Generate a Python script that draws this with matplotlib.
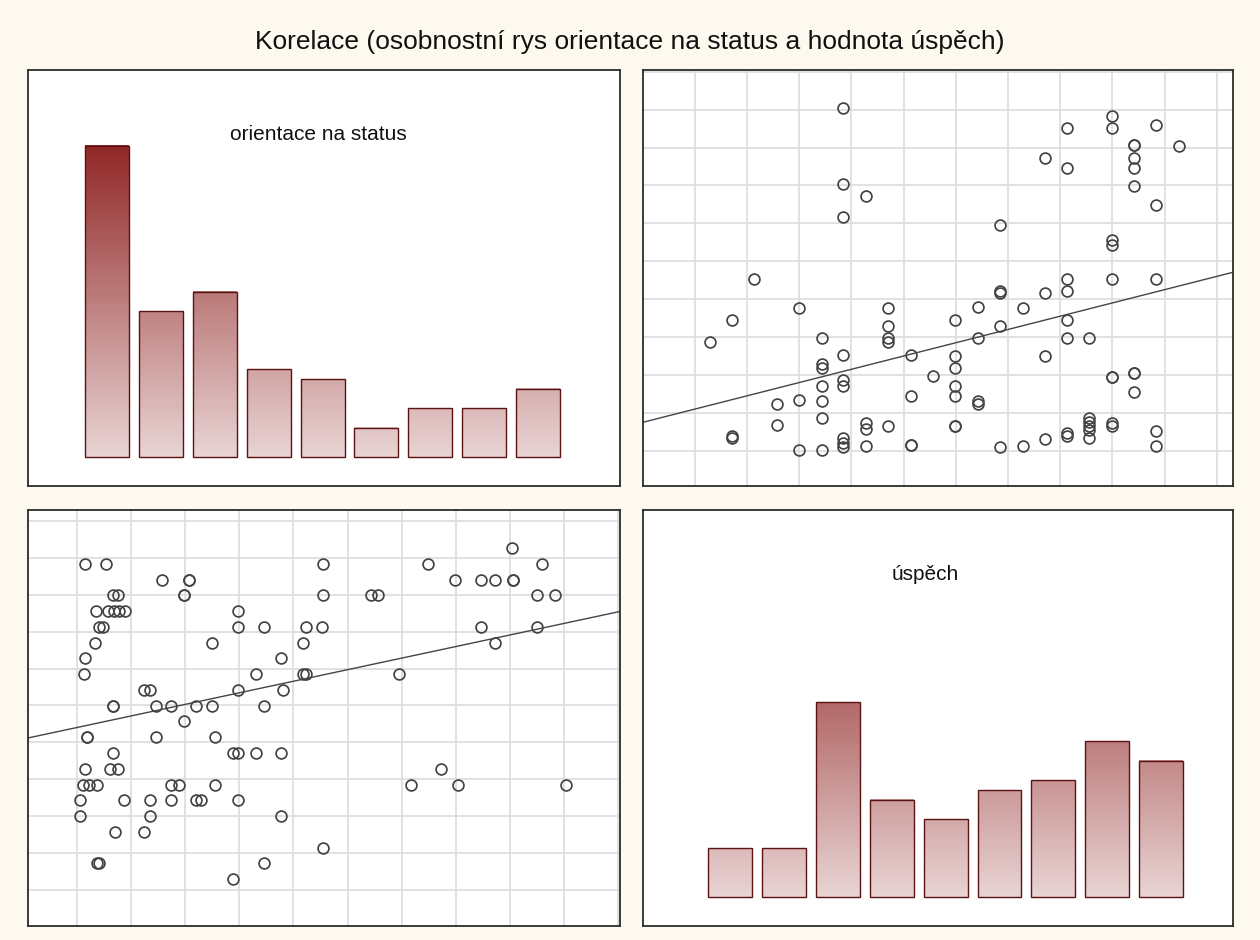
import numpy as np
import matplotlib
matplotlib.use("Agg")
import matplotlib.pyplot as plt
from matplotlib.colors import LinearSegmentedColormap, Normalize
from matplotlib.ticker import MultipleLocator

plt.rcParams['font.family'] = ['Liberation Sans', 'DejaVu Sans']

# skóre úspěch a orientace na status pro každého respondenta
uspech = [
    0.29,
    0.71, 0.71, 0.71,
    1.14,
    1.57, 1.57,
    2.00, 2.00, 2.00,
    2.43, 2.43, 2.43, 2.43, 2.43, 2.43, 2.43,
    2.85, 2.85, 2.85, 2.85, 2.85, 2.85, 2.85, 2.85, 2.85,
    3.28, 3.28, 3.28, 3.28,
    3.71, 3.71, 3.71, 3.71, 3.71,
    4.14, 4.14, 4.14, 4.14,
    4.57,
    4.99, 4.99, 4.99, 4.99, 4.99, 4.99, 4.99,
    5.42, 5.42, 5.42, 5.42,
    5.85, 5.85, 5.85, 5.85, 5.85,
    6.28, 6.28,
    6.70, 6.70, 6.70, 6.70,
    7.13, 7.13, 7.13, 7.13, 7.13, 7.13, 7.13, 7.13,
    7.56, 7.56, 7.56, 7.56, 7.56, 7.56,
    7.99, 7.99, 7.99, 7.99, 7.99, 7.99, 7.99, 7.99, 7.99,
    8.41, 8.41, 8.41, 8.41, 8.41, 8.41, 8.41, 8.41,
    8.84, 8.84, 8.84, 8.84, 8.84,
    9.27,
]
status = [
    2.89,
    0.36, 0.41, 3.46,
    4.55,
    0.70, 1.24,
    0.05, 1.35, 3.77,
    0.05, 0.87, 1.34, 1.73, 2.20, 2.29, 2.98,
    0.11, 0.21, 0.36, 1.73, 1.88, 2.54, 6.17, 7.04, 9.05,
    0.15, 0.60, 0.76, 6.72,
    0.67, 2.88, 2.98, 3.31, 3.77,
    0.18, 0.18, 1.45, 2.54,
    1.98,
    0.66, 0.66, 1.45, 1.73, 2.20, 2.50, 3.46,
    1.24, 1.34, 2.98, 3.80,
    0.12, 3.31, 4.18, 4.23, 5.95,
    0.14, 3.77,
    0.33, 2.50, 4.18, 7.72,
    0.40, 0.48, 2.98, 3.46, 4.23, 4.53, 7.47, 8.51,
    0.35, 0.57, 0.68, 0.78, 0.88, 2.98,
    0.66, 0.76, 1.97, 1.97, 4.55, 5.44, 5.57, 8.51, 8.84,
    1.56, 2.07, 2.07, 6.99, 7.47, 7.72, 8.06, 8.06,
    0.15, 0.54, 4.55, 6.49, 8.59,
    8.04,
]

# četnosti v histogramech (9 intervalů)
status_counts = [32, 15, 17, 9, 8, 3, 5, 5, 7]
uspech_counts = [5, 5, 20, 10, 8, 11, 12, 16, 14]

title = "Korelace (osobnostní rys orientace na status a hodnota úspěch)"
status_label = "orientace na status"
uspech_label = "úspěch"

bg = "#fef9ee"
bar_cmap = LinearSegmentedColormap.from_list("cervena", ["#e9d4d4", "#922828"])
status_lim = (-0.91, 10.04)
uspech_lim = (-0.99, 10.31)

fig = plt.figure(figsize=(12.6, 9.4), dpi=100, facecolor=bg)
W, H = 1260, 940


def panel(x0, y0, x1, y1):
    ax = fig.add_axes([x0 / W, 1 - y1 / H, (x1 - x0) / W, (y1 - y0) / H])
    ax.set_facecolor("white")
    for s in ax.spines.values():
        s.set_color("#2b2b2b")
        s.set_linewidth(1.3)
    ax.set_xticks([])
    ax.set_yticks([])
    return ax


def histogram(ax, counts, label, xlim, label_x):
    norm = Normalize(0, max(status_counts))
    for i, c in enumerate(counts):
        x0, x1 = i - 0.408, i + 0.408
        grad = np.linspace(0, c, 200).reshape(-1, 1)
        ax.imshow(grad, extent=[x0, x1, 0, c], origin="lower", cmap=bar_cmap,
                  norm=norm, aspect="auto", zorder=2)
        ax.add_patch(plt.Rectangle((x0, 0), x1 - x0, c, fill=False,
                                   edgecolor="#5a1212", linewidth=1.0, zorder=3))
    ax.set_xlim(*xlim)
    ax.set_ylim(-3, 39.8)
    ax.text(label_x, 0.845, label, transform=ax.transAxes, ha="center",
            va="center", fontsize=15, color="#111111")


def scatter(ax, x, y, xlim, ylim):
    ax.xaxis.set_major_locator(MultipleLocator(1))
    ax.yaxis.set_major_locator(MultipleLocator(1))
    ax.tick_params(length=0, labelbottom=False, labelleft=False)
    ax.grid(True, color="#dcdcdc", linewidth=1.2)
    ax.set_axisbelow(True)
    ax.plot(x, y, "o", ms=7.8, mfc="none", mec="#444444", mew=1.25,
            linestyle="none", zorder=3)
    b, a = np.polyfit(x, y, 1)
    xs = np.array(xlim)
    ax.plot(xs, a + b * xs, color="#444444", linewidth=1.0, zorder=2)
    ax.set_xlim(*xlim)
    ax.set_ylim(*ylim)


ax_tl = panel(28, 70, 620, 486)
histogram(ax_tl, status_counts, status_label, (-1.471, 9.523), 0.49)

ax_tr = panel(643, 70, 1233, 486)
scatter(ax_tr, uspech, status, uspech_lim, status_lim)

ax_bl = panel(28, 510, 620, 926)
scatter(ax_bl, status, uspech, status_lim, uspech_lim)

ax_br = panel(643, 510, 1233, 926)
histogram(ax_br, uspech_counts, uspech_label, (-1.614, 9.332), 0.478)

fig.text(0.5, 1 - 42 / H, title, ha="center", va="center", fontsize=19,
         color="#111111")

fig.savefig("out.png", dpi=100, facecolor=bg)
